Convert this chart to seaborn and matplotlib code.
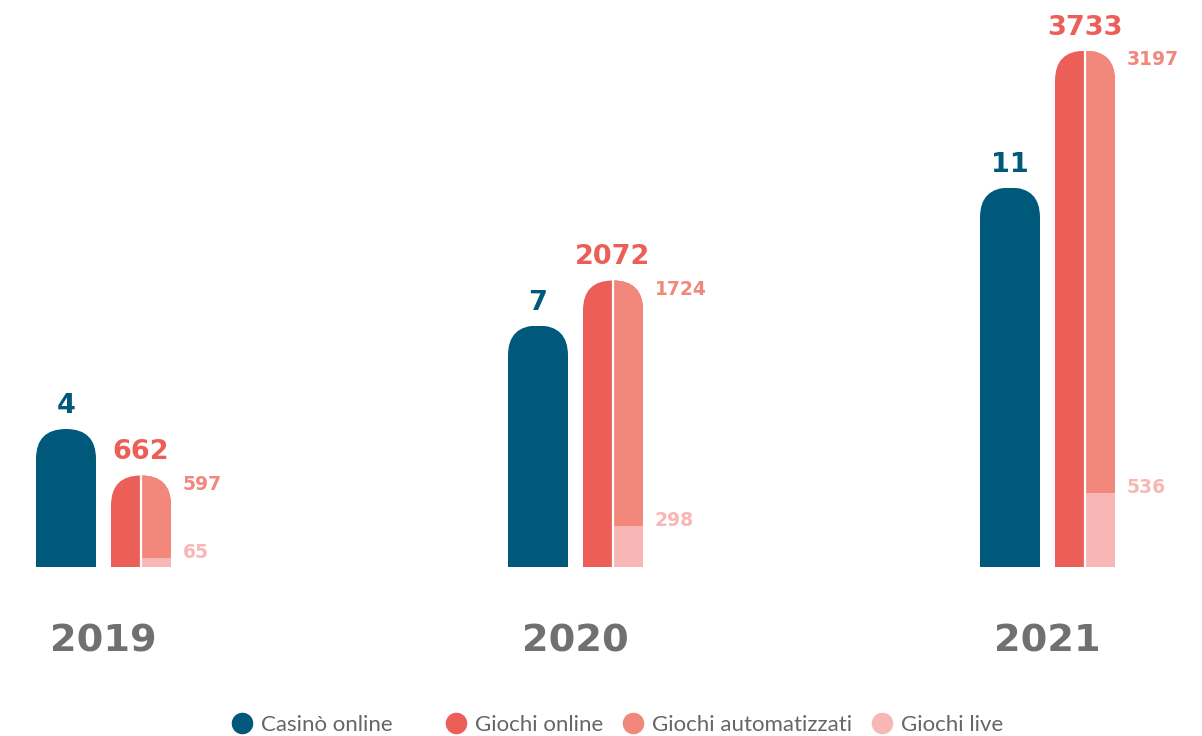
import numpy as np
import matplotlib
matplotlib.use("Agg")
import matplotlib.pyplot as plt
import matplotlib.transforms as mtransforms
from matplotlib.patches import FancyBboxPatch
from matplotlib.lines import Line2D
import seaborn as sns

# data
years = ['2019', '2020', '2021']
casino_online = [4, 7, 11]
giochi_online = [662, 2072, 3733]
giochi_automatizzati = [597, 1724, 3197]
giochi_live = [65, 298, 536]

BLUE = '#00587A'
RED = '#EC5F58'
SALMON = '#F1887B'
PINK = '#F7B8B5'
GREY = '#707070'
LEGEND_GREY = '#666666'

sns.set_theme(style='white')
plt.rcParams['font.family'] = ['DejaVu Sans']
NUM_FONT = 'DejaVu Sans'
LEG_FONT = 'Lato'

W, H = 1202, 736
fig = plt.figure(figsize=(W / 100, H / 100), dpi=100)
ax1 = fig.add_axes([0, 0, 1, 1])
ax2 = ax1.twinx()

# layout in pixels
group_px = 472
bar_px = 60
base_px = 169          # baseline distance from bottom of image
blue_scale = 34.5      # px per casino unit
red_scale = 0.1383     # px per giochi unit

pos = np.arange(len(years))
bw = bar_px / group_px
red_off = 75 / group_px
half_off = red_off + bw / 4

# Casinò online bars
n0 = len(ax1.patches)
sns.barplot(x=pos.astype(float), y=casino_online, native_scale=True, width=bw,
            color=BLUE, saturation=1, errorbar=None, linewidth=0, ax=ax1)
blue_bars = ax1.patches[n0:]

# Giochi online (full), automatizzati (right half, up to the top) and live
n0 = len(ax2.patches)
sns.barplot(x=pos + red_off, y=giochi_online, native_scale=True, width=bw,
            color=RED, saturation=1, errorbar=None, linewidth=0, ax=ax2)
red_bars = ax2.patches[n0:]
n0 = len(ax2.patches)
sns.barplot(x=pos + half_off, y=giochi_online, native_scale=True, width=bw / 2,
            color=SALMON, saturation=1, errorbar=None, linewidth=0, ax=ax2)
salmon_bars = ax2.patches[n0:]
n0 = len(ax2.patches)
sns.barplot(x=pos + half_off, y=giochi_live, native_scale=True, width=bw / 2,
            color=PINK, saturation=1, errorbar=None, linewidth=0, ax=ax2)
live_bars = ax2.patches[n0:]

# scales: both start at the same baseline
ax1.set_ylim(-base_px / blue_scale, (H - base_px) / blue_scale)
ax2.set_ylim(-base_px / red_scale, (H - base_px) / red_scale)
ax1.set_xlim(-66 / group_px, (W - 66) / group_px)


def rounded_clip(ax, xc, width, top, ry):
    rx = width / 2
    bottom = ax.get_ylim()[0]
    return FancyBboxPatch((xc - rx, bottom), width, top - bottom,
                          boxstyle=f"round,pad=0,rounding_size={rx}",
                          mutation_aspect=ry / rx, transform=ax.transData)


r_px = bar_px / 2
for i in range(len(years)):
    clip = rounded_clip(ax1, pos[i], bw, casino_online[i], r_px / blue_scale)
    blue_bars[i].set_clip_path(clip)
    clip = rounded_clip(ax2, pos[i] + red_off, bw, giochi_online[i], r_px / red_scale)
    for bars in (red_bars, salmon_bars, live_bars):
        bars[i].set_clip_path(clip)

# white divider between the halves
ax2.vlines(pos + red_off, 0, giochi_online, colors='white', lw=1.6)

# value labels
for i in range(len(years)):
    ax1.annotate(str(casino_online[i]), (pos[i], casino_online[i]), xytext=(0, 16),
                 textcoords='offset pixels', ha='center', va='baseline',
                 color=BLUE, fontsize=19.5, fontweight='bold', family=NUM_FONT)
    ax2.annotate(str(giochi_online[i]), (pos[i] + red_off, giochi_online[i]), xytext=(0, 16),
                 textcoords='offset pixels', ha='center', va='baseline',
                 color=RED, fontsize=19.5, fontweight='bold', family=NUM_FONT)
    ax2.annotate(str(giochi_automatizzati[i]), (pos[i] + red_off + bw / 2, giochi_online[i]),
                 xytext=(12, -14.5), textcoords='offset pixels', ha='left', va='baseline',
                 color=SALMON, fontsize=13.5, fontweight='bold', family=NUM_FONT)
    ax2.annotate(str(giochi_live[i]), (pos[i] + red_off + bw / 2, giochi_live[i]),
                 xytext=(12, 0), textcoords='offset pixels', ha='left', va='baseline',
                 color=PINK, fontsize=13.5, fontweight='bold', family=NUM_FONT)

# year labels
trans = mtransforms.blended_transform_factory(ax1.transData, fig.transFigure)
for i, yr in enumerate(years):
    ax1.text(pos[i] + red_off / 2, 1 - 651 / H, yr, transform=trans,
             ha='center', va='baseline', color=GREY, fontsize=27.5,
             fontweight='bold', family=NUM_FONT)

ax1.axis('off')
ax2.axis('off')

# legend (two blocks, the first one sits a bit apart)
def handle(c):
    return Line2D([], [], marker='o', ls='', markersize=14.5, color=c)

leg_kw = dict(frameon=False, prop={'family': LEG_FONT, 'size': 16}, labelcolor=LEGEND_GREY,
              handlelength=0.9, handletextpad=0.4, columnspacing=0.9,
              borderpad=0, borderaxespad=0, loc='center left')
leg1 = fig.legend([handle(BLUE)], ['Casinò online'],
                  bbox_to_anchor=(232 / W, 1 - 725 / H), **leg_kw)
fig.legend([handle(RED), handle(SALMON), handle(PINK)],
           ['Giochi online', 'Giochi automatizzati', 'Giochi live'], ncol=3,
           bbox_to_anchor=(446 / W, 1 - 725 / H), **leg_kw)

fig.savefig('out.png', dpi=100)
